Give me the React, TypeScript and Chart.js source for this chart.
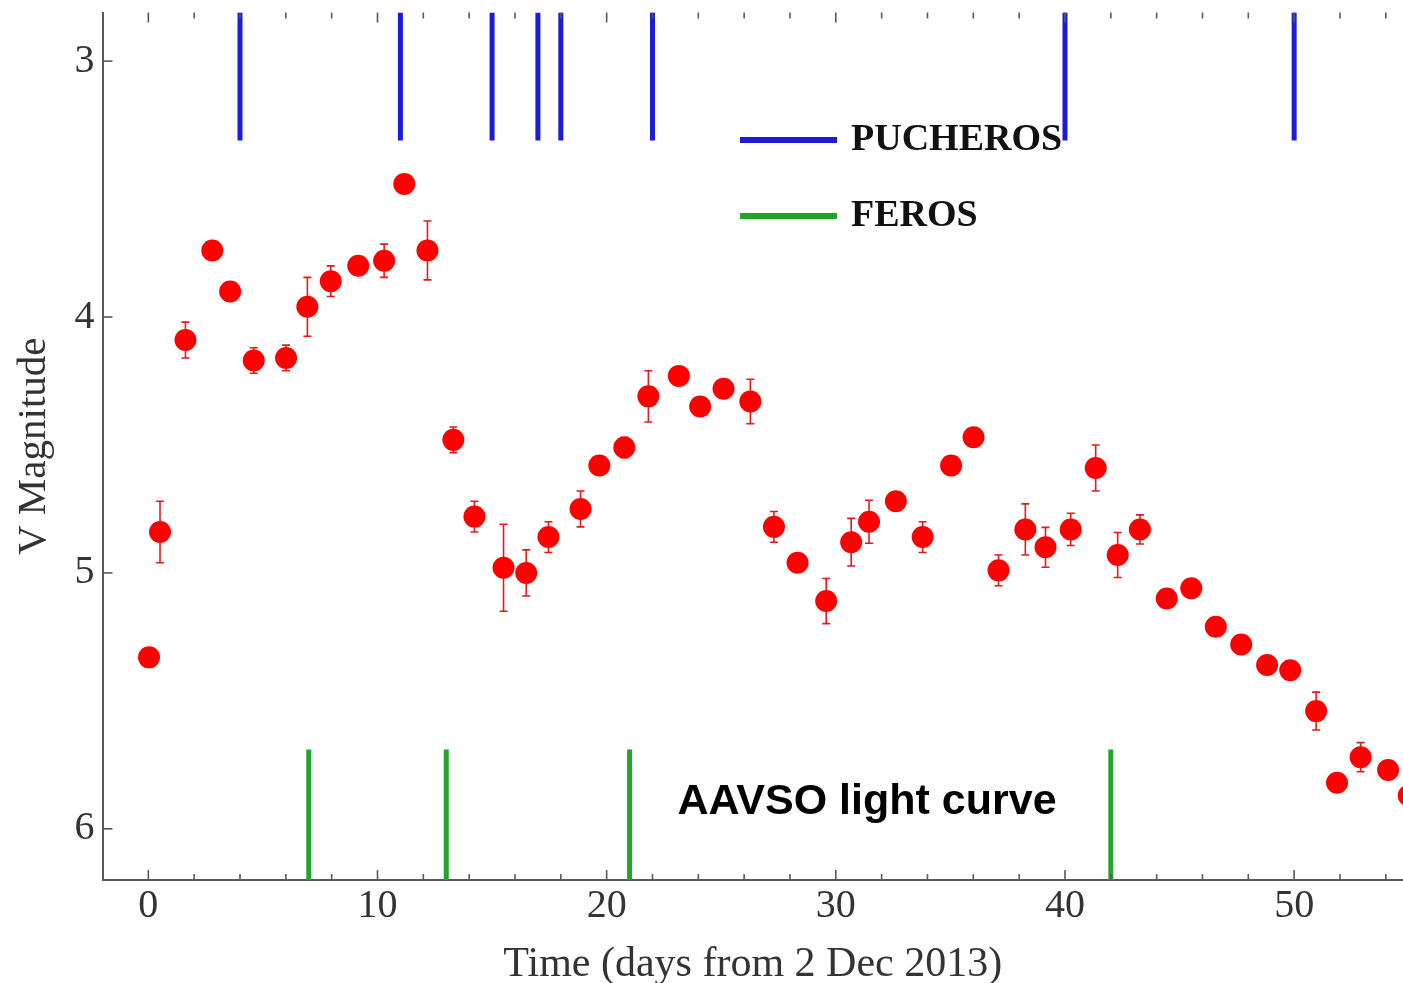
import { useEffect, useRef } from "react";
import { Chart, registerables } from "chart.js";

Chart.register(...registerables);

// V-band light curve (AAVSO) of the nova, days counted from 2 Dec 2013
const days = [
  0.03, 0.51, 1.62, 2.79, 3.57, 4.6, 6.01, 6.94, 7.96, 9.16, 10.29, 11.17, 12.18,
  13.31, 14.23, 15.5, 16.49, 17.46, 18.86, 19.68, 20.77, 21.82, 23.15, 24.08, 25.1,
  26.27, 27.3, 28.33, 29.58, 30.67, 31.45, 32.62, 33.79, 35.03, 36.01, 37.1, 38.27,
  39.15, 40.25, 41.34, 42.3, 43.27, 44.44, 45.51, 46.58, 47.69, 48.82, 49.83, 50.96,
  51.87, 52.9, 54.1, 55.0,
];
const vMag = [
  5.33, 4.84, 4.09, 3.74, 3.9, 4.17, 4.16, 3.96, 3.86, 3.8, 3.78, 3.48, 3.74,
  4.48, 4.78, 4.98, 5.0, 4.86, 4.75, 4.58, 4.51, 4.31, 4.23, 4.35, 4.28,
  4.33, 4.82, 4.96, 5.11, 4.88, 4.8, 4.72, 4.86, 4.58, 4.47, 4.99, 4.83,
  4.9, 4.83, 4.59, 4.93, 4.83, 5.1, 5.06, 5.21, 5.28, 5.36, 5.38, 5.54,
  5.82, 5.72, 5.77, 5.87,
];
const vMagErr = [
  0, 0.12, 0.07, 0, 0, 0.05, 0.05, 0.115, 0.06, 0, 0.065, 0, 0.115,
  0.05, 0.06, 0.17, 0.09, 0.06, 0.07, 0, 0.04, 0.1, 0, 0, 0,
  0.087, 0.06, 0, 0.088, 0.093, 0.084, 0, 0.06, 0, 0, 0.06, 0.1,
  0.078, 0.063, 0.09, 0.088, 0.057, 0, 0, 0, 0, 0, 0, 0.074,
  0, 0.057, 0, 0,
];

// Spectroscopic epochs
const pucherosDays = [4, 11, 15, 17, 18, 22, 40, 50];
const pucherosSpan = [2.81, 3.31];
const ferosDays = [7, 13, 21, 42];
const ferosSpan = [5.69, 6.2];

// Axes
const xRange = [-2, 54.75];
const yRange = [2.81, 6.2];
const xTicks = [0, 10, 20, 30, 40, 50];
const xMinorTicks = [2, 4, 6, 8, 12, 14, 16, 18, 22, 24, 26, 28, 32, 34, 36, 38, 42, 44, 46, 48, 52, 54];
const yTicks = [3, 4, 5, 6];

const xTitle = "Time (days from 2 Dec 2013)";
const yTitle = "V Magnitude";
const pucherosLabel = "PUCHEROS";
const ferosLabel = "FEROS";
const noteText = "AAVSO light curve";

const RED = "#ff0000";
const BLUE = "#1c1cd8";
const GREEN = "#23a52b";
const AXIS = "#5a5a5a";
const SERIF = "'Liberation Serif', 'Times New Roman', serif";
const SANS = "'Liberation Sans', Arial, sans-serif";

function epochSegments(list: number[], span: number[]) {
  const pts: { x: number; y: number | null }[] = [];
  list.forEach((d) => {
    pts.push({ x: d, y: span[0] });
    pts.push({ x: d, y: span[1] });
    pts.push({ x: d, y: null });
  });
  return pts;
}

function noScalePadding(s: any) {
  s.paddingTop = 0;
  s.paddingBottom = 0;
  s.paddingLeft = 0;
  s.paddingRight = 0;
}

const errorBarsPlugin = {
  id: "errorBars",
  beforeDatasetsDraw(chart: any) {
    const { ctx, chartArea, scales } = chart;
    const xs = scales.x;
    const ys = scales.y;
    ctx.save();
    ctx.beginPath();
    ctx.rect(chartArea.left, chartArea.top, chartArea.right - chartArea.left, chartArea.bottom - chartArea.top);
    ctx.clip();
    ctx.strokeStyle = "#e41a1a";
    ctx.lineWidth = 1.6;
    days.forEach((d, i) => {
      const e = vMagErr[i];
      if (!e) return;
      const x = xs.getPixelForValue(d);
      const y1 = ys.getPixelForValue(vMag[i] - e);
      const y2 = ys.getPixelForValue(vMag[i] + e);
      ctx.beginPath();
      ctx.moveTo(x, y1);
      ctx.lineTo(x, y2);
      ctx.moveTo(x - 4, y1);
      ctx.lineTo(x + 4, y1);
      ctx.moveTo(x - 4, y2);
      ctx.lineTo(x + 4, y2);
      ctx.stroke();
    });
    ctx.restore();
  },
};

const frameTicksPlugin = {
  id: "frameTicks",
  afterDraw(chart: any) {
    const { ctx, chartArea, scales } = chart;
    const xs = scales.x;
    const ys = scales.y;
    ctx.save();
    ctx.strokeStyle = AXIS;
    ctx.lineWidth = 1.6;
    const drawX = (v: number, len: number) => {
      const x = xs.getPixelForValue(v);
      ctx.beginPath();
      ctx.moveTo(x, chartArea.bottom);
      ctx.lineTo(x, chartArea.bottom - len);
      ctx.moveTo(x, chartArea.top);
      ctx.lineTo(x, chartArea.top + len);
      ctx.stroke();
    };
    xTicks.forEach((v) => drawX(v, 10));
    xMinorTicks.forEach((v) => drawX(v, 6));
    yTicks.forEach((v) => {
      const y = ys.getPixelForValue(v);
      ctx.beginPath();
      ctx.moveTo(chartArea.left, y);
      ctx.lineTo(chartArea.left + 10, y);
      ctx.stroke();
    });
    ctx.restore();
  },
};

const labelsPlugin = {
  id: "legendAndNote",
  afterDraw(chart: any) {
    const { ctx } = chart;
    ctx.save();
    const items = [
      { label: pucherosLabel, color: BLUE, y: 140 },
      { label: ferosLabel, color: GREEN, y: 216 },
    ];
    items.forEach((it) => {
      ctx.strokeStyle = it.color;
      ctx.lineWidth = 6;
      ctx.beginPath();
      ctx.moveTo(740, it.y);
      ctx.lineTo(837, it.y);
      ctx.stroke();
      ctx.fillStyle = "#111";
      ctx.font = `bold 38px ${SERIF}`;
      ctx.textAlign = "left";
      ctx.textBaseline = "middle";
      ctx.fillText(it.label, 851, it.y);
    });
    ctx.font = `bold 43px ${SANS}`;
    ctx.fillStyle = "#000";
    ctx.textAlign = "center";
    ctx.textBaseline = "middle";
    ctx.fillText(noteText, 867, 802);
    ctx.restore();
  },
};

export default function App() {
  const canvasRef = useRef<HTMLCanvasElement | null>(null);

  useEffect(() => {
    document.body.style.margin = "0";
    const canvas = canvasRef.current;
    if (!canvas) return;
    const chart = new Chart(canvas, {
      type: "scatter",
      data: {
        datasets: [
          {
            label: yTitle,
            data: days.map((d, i) => ({ x: d, y: vMag[i] })),
            backgroundColor: RED,
            borderColor: RED,
            borderWidth: 0,
            pointRadius: 11,
            pointHoverRadius: 11,
          },
          {
            label: pucherosLabel,
            data: epochSegments(pucherosDays, pucherosSpan) as any,
            showLine: true,
            spanGaps: false,
            borderColor: BLUE,
            borderWidth: 5,
            pointRadius: 0,
            borderCapStyle: "butt",
          },
          {
            label: ferosLabel,
            data: epochSegments(ferosDays, ferosSpan) as any,
            showLine: true,
            spanGaps: false,
            borderColor: GREEN,
            borderWidth: 5,
            pointRadius: 0,
            borderCapStyle: "butt",
          },
        ],
      },
      options: {
        responsive: false,
        animation: false,
        events: [],
        layout: { autoPadding: false, padding: { top: 12.5, right: 0, left: 0, bottom: 0 } },
        plugins: {
          legend: { display: false },
          tooltip: { enabled: false },
        },
        scales: {
          x: {
            type: "linear",
            min: xRange[0],
            max: xRange[1],
            grid: { display: false, drawTicks: false },
            border: { display: true, color: AXIS, width: 2 },
            ticks: {
              color: "#333",
              font: { family: SERIF, size: 40 },
              padding: 2,
              maxRotation: 0,
              autoSkip: false,
            },
            afterBuildTicks: (s: any) => {
              s.ticks = xTicks.map((v) => ({ value: v }));
            },
            afterFit: (s: any) => {
              s.height = 103;
              noScalePadding(s);
            },
            title: {
              display: true,
              text: xTitle,
              color: "#333",
              font: { family: SERIF, size: 42, lineHeight: 0.82 },
              padding: { top: 0, bottom: 1 },
            },
          },
          y: {
            type: "linear",
            reverse: true,
            min: yRange[0],
            max: yRange[1],
            grid: { display: false, drawTicks: false },
            border: { display: true, color: AXIS, width: 2 },
            ticks: {
              color: "#333",
              font: { family: SERIF, size: 40 },
              padding: 8,
            },
            afterBuildTicks: (s: any) => {
              s.ticks = yTicks.map((v) => ({ value: v }));
            },
            afterFit: (s: any) => {
              s.width = 102.5;
              noScalePadding(s);
            },
            title: {
              display: true,
              text: yTitle,
              color: "#333",
              font: { family: SERIF, size: 41, lineHeight: 1.2 },
              padding: { top: 10, bottom: 0 },
            },
          },
        },
      } as any,
      plugins: [errorBarsPlugin, frameTicksPlugin, labelsPlugin],
    });
    return () => chart.destroy();
  }, []);

  return (
    <div style={{ position: "fixed", left: 0, top: 0, width: 1403, height: 983, background: "#fff" }}>
      <canvas ref={canvasRef} width={1403} height={983} style={{ display: "block" }} />
    </div>
  );
}
